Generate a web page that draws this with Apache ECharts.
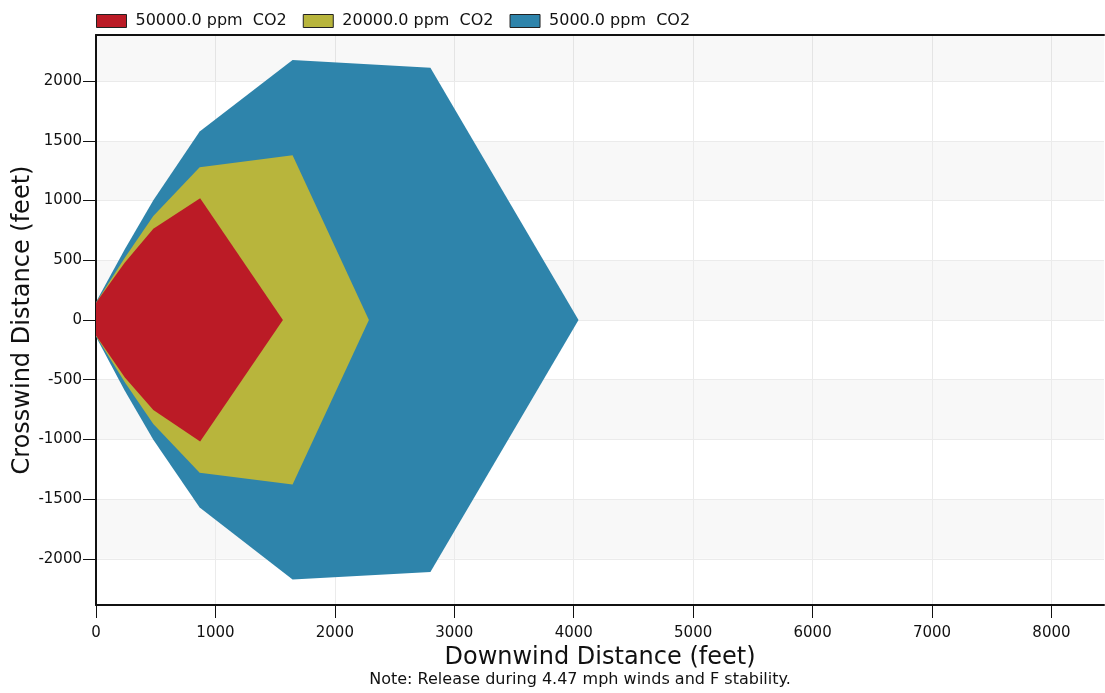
<!DOCTYPE html>
<html>
<head>
<meta charset="utf-8">
<script src="https://cdn.jsdelivr.net/npm/echarts@6/dist/echarts.min.js"></script>
<style>
  html, body { margin: 0; padding: 0; background: #ffffff; }
  #chart { width: 1105px; height: 693px; }
</style>
</head>
<body>
<div id="chart"></div>
<script>
// Threat-zone outlines (feet): downwind x, crosswind y, listed around each footprint
const zoneNames = ['50000.0 ppm  CO2', '20000.0 ppm  CO2', '5000.0 ppm  CO2'];
const zoneColors = ['#bb1b26', '#b8b53c', '#2e84ab'];

const redX = [0, 240, 480, 872, 1565, 872, 480, 240, 0];
const redY = [145, 480, 765, 1020, 0, -1018, -753, -480, -130];

const yellowX = [0, 240, 480, 868, 1646, 2285, 1646, 868, 480, 240, 0];
const yellowY = [145, 520, 870, 1280, 1380, 0, -1378, -1280, -870, -520, -135];

const blueX = [0, 240, 480, 868, 1646, 2800, 4040, 2800, 1646, 868, 480, 240, 0];
const blueY = [150, 590, 1004, 1578, 2178, 2113, 0, -2111, -2173, -1571, -1004, -590, -140];

const xTicks = [0, 1000, 2000, 3000, 4000, 5000, 6000, 7000, 8000];
const yTicks = [-2000, -1500, -1000, -500, 0, 500, 1000, 1500, 2000];

const xMax = 8440;
const yHalf = 2387;
// shaded strip above the last labelled gridline
const topBand = [2000, yHalf];

const FONT = 'DejaVu Sans';

function zoneSeries(name, xs, ys, color) {
  return {
    type: 'custom',
    name: name,
    data: xs.map((x, i) => [x, ys[i]]),
    encode: { x: 0, y: 1 },
    itemStyle: { color: color },
    clip: true,
    silent: true,
    z: 3,
    renderItem: function (params, api) {
      // one filled polygon per zone, built from all of its vertices
      if (params.dataIndex !== 0) return null;
      const pts = xs.map((x, i) => api.coord([x, ys[i]]));
      return { type: 'polygon', shape: { points: pts }, style: { fill: color } };
    }
  };
}

const bandSeries = {
  type: 'custom',
  name: 'band',
  silent: true,
  clip: true,
  z: 1,
  data: [[0, topBand[0], xMax, topBand[1]]],
  encode: { x: [0, 2], y: [1, 3] },
  renderItem: function (params, api) {
    const p0 = api.coord([api.value(0), api.value(3)]);
    const p1 = api.coord([api.value(2), api.value(1)]);
    return {
      type: 'rect',
      shape: { x: p0[0], y: p0[1], width: p1[0] - p0[0], height: p1[1] - p0[1] },
      style: { fill: 'rgba(0,0,0,0.027)' }
    };
  }
};

const plainNumber = v => String(v);

const chart = echarts.init(document.getElementById('chart'), null, { renderer: 'canvas' });

chart.setOption({
  animation: false,
  backgroundColor: '#ffffff',
  textStyle: { fontFamily: FONT },
  legend: {
    left: 91,
    top: 8,
    itemWidth: 30,
    itemHeight: 13,
    itemGap: 16,
    icon: 'rect',
    textStyle: { fontFamily: FONT, fontSize: 16, color: '#111', padding: [0, 0, 0, 4] },
    data: zoneNames.map(n => ({ name: n, itemStyle: { borderColor: '#222', borderWidth: 1 } }))
  },
  grid: { left: 96, right: 1, top: 35, bottom: 88, containLabel: false, outerBoundsMode: 'none' },
  xAxis: [{
    type: 'value',
    min: 0,
    max: xMax,
    minInterval: 1000,
    maxInterval: 1000,
    name: 'Downwind Distance (feet)',
    nameLocation: 'middle',
    nameGap: 41,
    nameTextStyle: { fontFamily: FONT, fontSize: 24, color: '#111' },
    axisLine: { show: true, onZero: false, lineStyle: { color: '#111', width: 2 } },
    axisTick: { show: true, length: 13, customValues: xTicks, lineStyle: { color: '#111', width: 1 } },
    axisLabel: { customValues: xTicks, formatter: plainNumber, fontFamily: FONT, fontSize: 15, color: '#111', margin: 21 },
    splitLine: { show: true, lineStyle: { color: '#ebebeb', width: 1 } }
  }, {
    type: 'value',
    position: 'top',
    min: 0,
    max: xMax,
    axisLine: { show: true, onZero: false, lineStyle: { color: '#111', width: 2 } },
    axisTick: { show: false },
    axisLabel: { show: false },
    splitLine: { show: false }
  }],
  yAxis: {
    type: 'value',
    min: -yHalf,
    max: yHalf,
    minInterval: 500,
    maxInterval: 500,
    name: 'Crosswind Distance (feet)',
    nameLocation: 'middle',
    nameGap: 61,
    nameMoveOverlap: false,
    nameTextStyle: { fontFamily: FONT, fontSize: 24, color: '#111' },
    axisLine: { show: true, onZero: false, lineStyle: { color: '#111', width: 2 } },
    axisTick: { show: true, length: 13, customValues: yTicks, lineStyle: { color: '#111', width: 1 } },
    axisLabel: { customValues: yTicks, formatter: plainNumber, fontFamily: FONT, fontSize: 15, color: '#111', margin: 14 },
    splitLine: { show: true, lineStyle: { color: '#ebebeb', width: 1 } },
    splitArea: { show: true, areaStyle: { color: ['#f8f8f8', '#ffffff'] } }
  },
  graphic: [{
    type: 'text',
    x: 580,
    y: 672,
    style: {
      text: 'Note: Release during 4.47 mph winds and F stability.',
      font: '16px "DejaVu Sans"',
      fill: '#111',
      align: 'center',
      verticalAlign: 'top'
    }
  }],
  series: [
    bandSeries,
    zoneSeries(zoneNames[2], blueX, blueY, zoneColors[2]),
    zoneSeries(zoneNames[1], yellowX, yellowY, zoneColors[1]),
    zoneSeries(zoneNames[0], redX, redY, zoneColors[0])
  ]
});
</script>
</body>
</html>
